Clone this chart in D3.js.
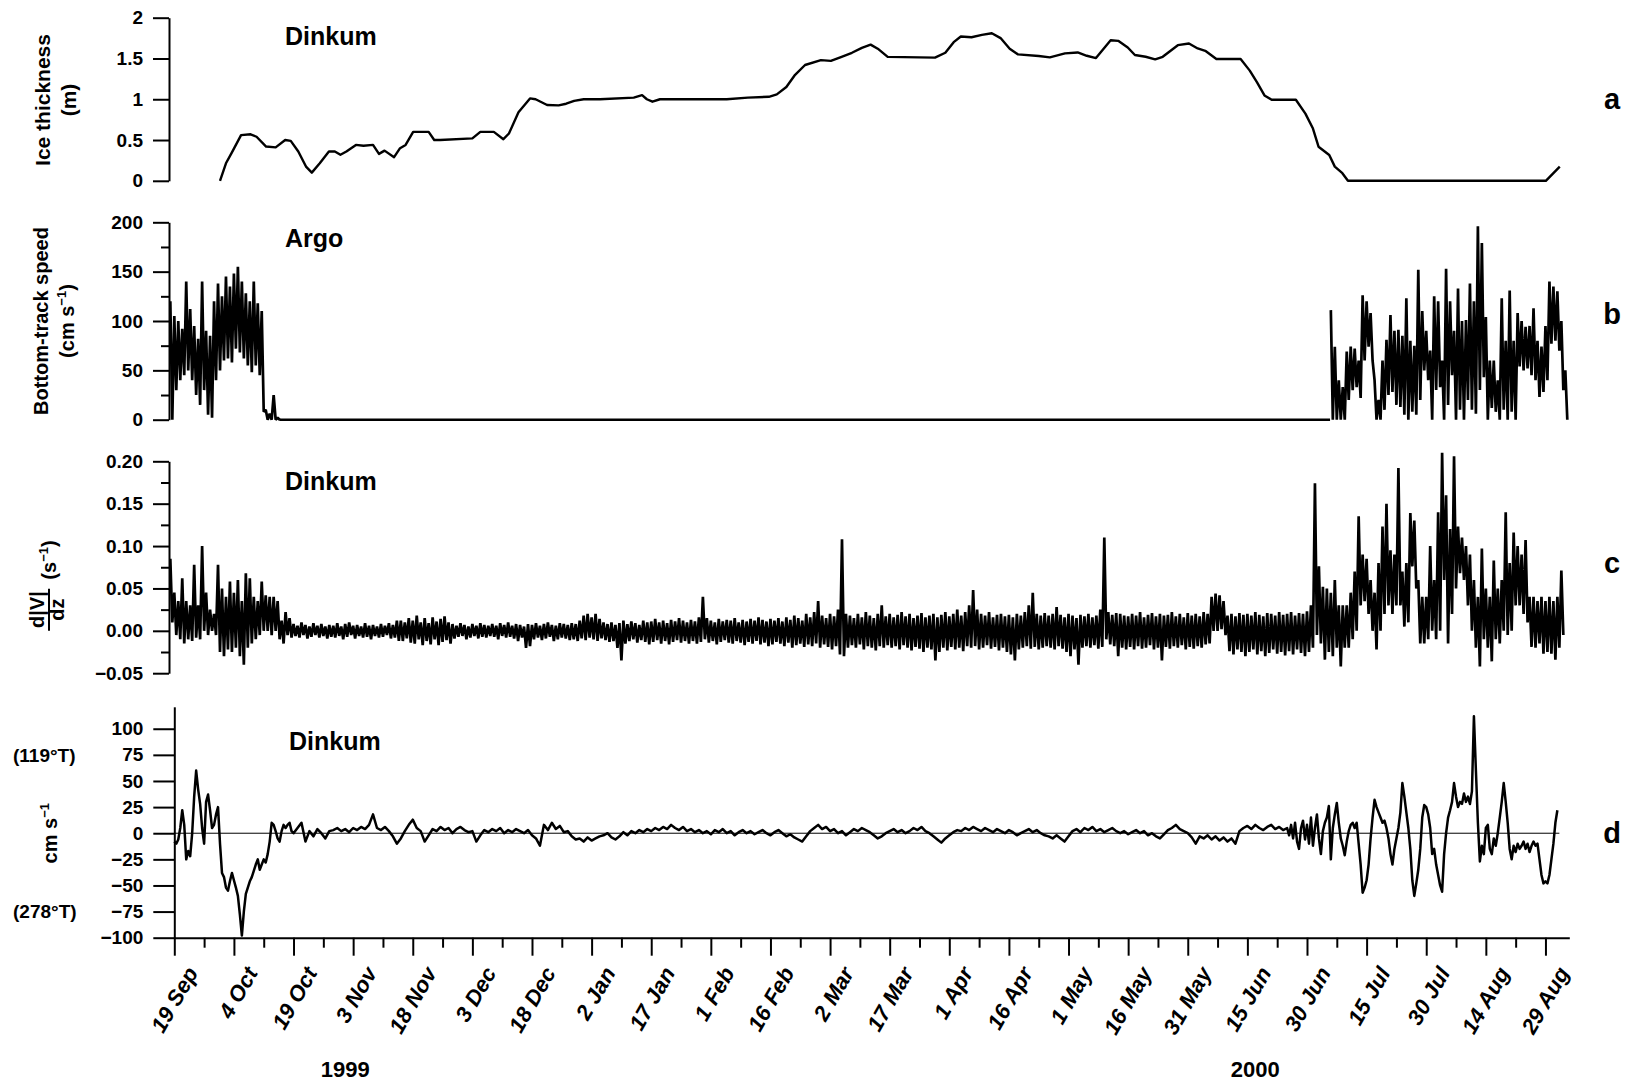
<!DOCTYPE html>
<html>
<head>
<meta charset="utf-8">
<script src="https://cdn.jsdelivr.net/npm/d3@7"></script>
<style>
  body { margin: 0; background: #fff; }
  svg { display: block; }
  text { font-family: "Liberation Sans", Arial, Helvetica, sans-serif; font-weight: bold; fill: #000; }
</style>
</head>
<body>
<div id="container"></div>
<script>
// all series are indexed by days since 19 Sep 1999

// x axis ticks
const tickDates = ["1999-09-19","1999-10-04","1999-10-19","1999-11-03","1999-11-18","1999-12-03",
  "1999-12-18","2000-01-02","2000-01-17","2000-02-01","2000-02-16","2000-03-02","2000-03-17",
  "2000-04-01","2000-04-16","2000-05-01","2000-05-16","2000-05-31","2000-06-15","2000-06-30",
  "2000-07-15","2000-07-30","2000-08-14","2000-08-29"];
const yearLabels = [["1999", "1999-11-01"], ["2000", "2000-06-17"]];
const panelNames = ["Dinkum", "Argo", "Dinkum", "Dinkum"];
const panelLetters = ["a", "b", "c", "d"];

// (a) ice thickness, m
const iceDays = [11.5,13,14.4,16.8,19.2,20.7,23.1,25.5,27.9,29.3,31.2,33.2,34.6,36.6,38.9,40.4,41.8,43.3,
  45.7,47.6,50,51.5,52.9,55.3,56.8,58.2,60.1,64,65.4,66.9,75,77,80.4,82.8,84.2,86.6,89.5,90.9,93.8,
  96.7,98.6,100.6,103,107.1,115.6,117.7,118.9,120.3,122.2,139,144.3,149.6,151.6,154,156.2,158.7,
  162.7,165.2,167.9,170.5,173,175.2,177,179.5,191.4,194,196.1,197.9,200.6,203.2,205.7,207.9,210.2,
  212.3,217.5,220.3,224.1,227.3,229.6,231.9,235.6,237.5,239.9,241.7,244.4,246.8,248.7,252.5,255.3,
  257.5,259.4,262.2,268.3,270.6,272.4,274.3,276.1,282.2,284.6,286.5,287.9,290.6,292,293.9,295.3,
  345.1,348.6];
const iceThick = [0,0.215,0.34,0.56,0.57,0.54,0.42,0.41,0.5,0.49,0.36,0.17,0.1,0.215,0.36,0.36,0.32,0.36,
  0.44,0.43,0.44,0.33,0.37,0.29,0.4,0.44,0.6,0.6,0.5,0.5,0.52,0.6,0.6,0.51,0.58,0.84,1.01,1,0.93,
  0.925,0.945,0.98,1,1,1.02,1.05,1,0.97,1,1,1.02,1.03,1.06,1.15,1.3,1.42,
  1.48,1.47,1.52,1.57,1.63,1.67,1.62,1.52,1.51,1.57,1.7,1.77,1.76,1.79,1.81,1.75,1.62,
  1.55,1.53,1.513,1.562,1.574,1.533,1.505,1.724,1.716,1.635,1.542,1.521,1.489,1.521,1.663,1.684,
  1.623,1.594,1.493,1.493,1.351,1.209,1.047,0.994,0.994,0.824,0.641,0.418,0.316,0.174,0.093,0,
  0,0.174];

// (b) bottom-track speed, cm/s: daily high / low, first burst from day -1, second from day 291
const speedHiA = [120,105,100,92,140,112,95,82,140,90,85,120,138,125,145,135,148,155,140,128,120,140,118,110,10,6,25,2];
const speedLoA = [0,30,40,45,50,40,25,15,30,5,2,40,50,60,62,58,72,68,62,55,48,55,45,8,0,0,0,0];
const speedIdle = [27, 290.8];   // days with zero speed (fast ice)
const speedHiB = [111,74,40,33,69,74,72,60,126,120,108,40,20,60,81,106,90,91,85,123,80,75,152,110,90,70,125,120,60,153,
  120,90,133,100,101,138,120,196,179,104,60,60,40,123,80,131,80,108,100,94,95,113,80,74,95,140,135,130,100,50];
const speedLoB = [0,0,0,0,20,30,33,22,60,74,60,0,0,10,25,28,15,13,5,0,8,5,20,50,40,0,30,33,0,15,
  45,0,10,0,20,10,6,30,43,0,12,8,0,10,0,8,0,54,50,52,45,40,23,28,40,77,80,70,30,0];

// (c) shear d|V|/dz, 1/s: daily high / low from day -1 to day 349
const shearHi = [
  .085,.045,.035,.062,.035,.03,.078,.03,.1,.045,.025,.02,.078,.05,.04,.058,.045,.06,.035,.068,.062,.04,.035,.058,.042,.04,.04,.035,.012,.022,.015,
  .008,.006,.01,.007,.005,.009,.006,.008,.005,.007,
  .006,.009,.005,.008,.01,.006,.007,.005,.009,.006,
  .007,.005,.008,.006,.009,.007,.012,.012,.01,.015,
  .012,.018,.01,.015,.009,.016,.011,.014,.017,.01,
  .008,.006,.009,.007,.005,.008,.006,.009,.007,.006,
  .008,.006,.009,.007,.01,.006,.008,.007,.005,.008,
  .007,.009,.006,.008,.01,.007,.006,.009,.008,.007,
  .009,.008,.012,.018,.02,.016,.02,.014,.01,.008,
  .01,.007,.009,.012,.008,.011,.009,.007,.012,.01,
  .011,.014,.01,.012,.009,.013,.011,.015,.012,.01,
  .013,.011,.016,.04,.015,.012,.01,.014,.011,.013,
  .012,.015,.01,.013,.011,.014,.012,.016,.013,.011,
  .014,.012,.015,.011,.016,.013,.018,.015,.012,.02,
  .016,.022,.035,.018,.015,.02,.017,.025,.108,.02,
  .018,.015,.02,.016,.022,.018,.015,.02,.03,.017,
  .02,.016,.019,.022,.017,.02,.015,.018,.021,.016,
  .018,.02,.016,.019,.022,.017,.02,.025,.018,.022,
  .03,.048,.025,.02,.018,.022,.016,.019,.02,.017,
  .019,.016,.02,.018,.022,.03,.045,.02,.018,.021,
  .018,.02,.028,.019,.016,.02,.018,.015,.019,.017,
  .02,.016,.018,.025,.11,.022,.019,.021,.02,.018,
  .017,.02,.018,.022,.016,.019,.021,.017,.02,.018,
  .019,.022,.017,.02,.016,.021,.018,.02,.017,.022,
  .02,.04,.044,.042,.035,.018,.02,.017,.021,.019,
  .02,.018,.022,.019,.017,.021,.02,.018,.022,.019,
  .02,.022,.018,.021,.02,.023,
  .03,.174,.076,.052,.05,.045,.06,.03,.03,.03,.045,.07,.135,.09,.085,.06,.045,.08,.123,.15,
  .095,.09,.192,.07,.08,.139,.13,.06,.04,.04,.1,.06,.14,.21,.16,.12,.206,.123,.11,.1,
  .09,.06,.04,.097,.05,.04,.083,.05,.06,.14,.08,.116,.1,.09,.107,.04,.04,.035,.04,.035,
  .04,.035,.04,.071];
const shearLo = [
  .01,-.005,-.01,-.015,-.01,-.012,-.008,-.01,0,-.005,0,-.005,-.025,-.03,-.022,-.025,-.02,-.03,-.04,-.02,-.015,-.01,-.005,0,0,-.005,0,-.01,-.015,-.005,-.008,
  -.006,-.008,-.005,-.009,-.007,-.005,-.008,-.006,-.009,-.007,
  -.008,-.006,-.01,-.007,-.005,-.009,-.006,-.008,-.007,-.01,
  -.006,-.008,-.007,-.005,-.009,-.008,-.012,-.012,-.009,-.014,
  -.015,-.01,-.017,-.012,-.016,-.01,-.017,-.013,-.011,-.015,
  -.009,-.007,-.006,-.01,-.008,-.006,-.009,-.007,-.008,-.006,
  -.007,-.01,-.006,-.008,-.007,-.009,-.012,-.008,-.02,-.018,
  -.01,-.008,-.011,-.009,-.007,-.012,-.01,-.008,-.009,-.011,
  -.01,-.012,-.009,-.011,-.008,-.01,-.012,-.009,-.011,-.013,
  -.012,-.02,-.035,-.015,-.012,-.01,-.014,-.011,-.013,-.016,
  -.013,-.011,-.015,-.012,-.016,-.013,-.011,-.014,-.012,-.015,
  -.012,-.015,-.013,-.01,-.014,-.012,-.016,-.013,-.011,-.014,
  -.015,-.012,-.014,-.017,-.013,-.015,-.012,-.016,-.014,-.018,
  -.016,-.013,-.015,-.018,-.014,-.02,-.017,-.015,-.019,-.016,
  -.018,-.015,-.02,-.016,-.019,-.022,-.018,-.028,-.03,-.02,
  -.017,-.02,-.016,-.022,-.018,-.02,-.023,-.018,-.02,-.017,
  -.02,-.018,-.022,-.017,-.02,-.023,-.019,-.021,-.025,-.02,
  -.022,-.035,-.025,-.02,-.023,-.019,-.022,-.02,-.024,-.018,
  -.02,-.018,-.022,-.02,-.017,-.021,-.019,-.023,-.02,-.025,
  -.028,-.035,-.022,-.02,-.018,-.021,-.019,-.022,-.02,-.018,
  -.02,-.022,-.018,-.021,-.025,-.03,-.022,-.04,-.02,-.018,
  -.02,-.017,-.021,-.019,-.01,-.016,-.018,-.03,-.02,-.022,
  -.019,-.022,-.018,-.021,-.02,-.017,-.022,-.02,-.035,-.019,
  -.021,-.018,-.02,-.017,-.022,-.019,-.021,-.018,-.02,-.016,
  -.015,0,0,.002,-.005,-.024,-.028,-.022,-.025,-.03,
  -.025,-.022,-.028,-.024,-.03,-.026,-.022,-.027,-.025,-.029,
  -.024,-.028,-.022,-.026,-.03,-.025,
  -.02,-.005,-.015,-.034,-.025,-.03,-.02,-.042,-.02,-.02,-.01,0,.03,.035,.02,0,-.022,0,.02,.03,
  .02,.03,.03,.005,.01,.076,.05,-.015,-.015,-.01,0,-.01,0,.06,-.015,.02,.05,.068,.06,.03,
  0,-.02,-.042,-.01,-.02,-.036,-.01,-.015,0,-.005,0,.03,.03,.02,.01,-.019,-.02,-.015,-.027,-.025,
  -.027,-.034,-.02,-.005];

// (d) along-channel velocity, cm/s (positive toward 119°T)
const velEarly = [ // day 0 to 29.5, half-day steps
  -8,-10,-6,5,22,8,-25,-17,-22,0,35,60,42,28,5,-10,30,37,22,5,
  8,18,25,-10,-38,-42,-52,-55,-46,-38,-45,-52,-60,-78,-98,-75,-58,-52,-46,-42,
  -36,-30,-25,-35,-30,-25,-28,-20,-8,10,8,2,-5,-8,2,8,5,8,10,2];
const velMid = [ // day 30 to 279, daily
  0,5,10,-8,2,-3,4,0,-5,2, 3,5,2,4,1,5,3,6,4,8, 18,5,3,6,2,-3,-10,-5,2,8,
  13,5,2,-8,-2,4,2,6,3,5, 0,4,6,3,1,2,-8,-2,3,1, 4,2,5,0,3,1,4,2,0,3,
  -2,-5,-12,8,3,10,4,7,1,2, -3,-6,-5,-8,-4,-7,-5,-3,-2,0, -4,-6,-3,1,-2,2,0,3,1,4,
  2,5,3,6,4,8,5,3,6,2, 4,1,3,0,2,-1,3,1,4,0, 2,-2,1,3,0,2,-1,1,3,0,
  -2,1,3,0,-3,-1,-4,-6,-8,-3, 2,5,8,4,6,2,4,0,2,-2, 1,4,2,5,3,1,-2,-5,-3,0,
  2,4,1,3,0,2,5,3,6,2, 0,-3,-6,-9,-5,-2,1,3,2,5, 3,6,4,2,5,3,1,4,2,0,
  3,1,-2,0,2,4,1,3,0,-2, -3,-5,-2,-5,-8,-3,2,4,1,5, 3,6,2,4,1,3,5,2,0,2,
  -1,1,3,0,2,-2,0,-3,-5,-1, 3,5,8,4,2,0,-4,-10,-3,-5, -2,-6,-3,-7,-4,-8,-5,-10,2,5,
  7,4,8,5,3,6,8,4,6,3];
const velLate = [ // day 280 to 348, half-day steps
  5,-2,8,-5,10,-8,-15,5,12,-6, 8,-10,15,-12,5,18,-5,-20,2,10,
  15,26,-25,5,18,29,10,-5,-12,-21, -8,2,8,10,5,10,-10,-30,-57,-52,
  -45,-30,-5,15,32,25,20,15,10,12, 5,-5,-20,-30,-15,-5,5,20,48,35,
  20,5,-15,-45,-60,-48,-35,-15,15,27, 25,18,5,-20,-15,-30,-40,-50,-56,-20,
  0,15,22,30,48,35,25,30,28,38, 30,35,28,40,112,60,10,-27,-12,-20,
  5,8,-15,-20,-5,-12,0,15,30,48, 30,10,-15,-25,-12,-18,-10,-15,-12,-8,
  -15,-10,-18,-12,-8,-12,-10,-25,-40,-48, -46,-48,-40,-25,-10,10,22];
const dirLabels = [["(119°T)", 75], ["(278°T)", -75]];

// ---------------------------------------------------------------
const W = 1629, H = 1082;
const t0 = Date.UTC(1999, 8, 19);
const day = d => new Date(t0 + d * 864e5);
const parse = d3.utcParse("%Y-%m-%d");

const x = d3.scaleUtc().domain([day(0), day(351)]).range([174.3, 1569.3]);
const yA = d3.scaleLinear().domain([0, 2]).range([180.8, 17.7]);
const yB = d3.scaleLinear().domain([0, 200]).range([419.7, 222.3]);
const yC = d3.scaleLinear().domain([-0.05, 0.2]).range([673.2, 461.3]);
const yD = d3.scaleLinear().domain([-100, 121]).range([937.7, 706.8]);

const svg = d3.select("#container").append("svg")
  .attr("width", W).attr("height", H)
  .style("background", "#fff");

// helpers to turn the arrays into [day, value] points
const band = (start, hi, lo) => hi.flatMap((h, i) => [[start + i, h], [start + i + 0.5, lo[i]]]);
const steps = (start, step, vals) => vals.map((v, i) => [start + i * step, v]);

function yAxis(scale, xPos, major, minor, fmt, size) {
  const g = svg.append("g").attr("transform", `translate(${xPos},0)`);
  g.call(d3.axisLeft(scale).tickValues(major).tickSize(size).tickSizeOuter(0).tickPadding(10).tickFormat(fmt));
  if (minor) {
    g.append("g")
      .call(d3.axisLeft(scale).tickValues(minor).tickSize(size / 2).tickFormat(""))
      .select(".domain").remove();
  }
  g.selectAll("path, line").attr("stroke", "#000").attr("stroke-width", 2);
  g.selectAll("text").attr("font-size", 19);
  return g;
}

function plot(points, y, width, join = "round") {
  svg.append("path")
    .datum(points)
    .attr("fill", "none")
    .attr("stroke", "#000")
    .attr("stroke-width", width)
    .attr("stroke-linejoin", join)
    .attr("d", d3.line().x(p => x(day(p[0]))).y(p => y(p[1])));
}

// panel a
yAxis(yA, 169, [0, 0.5, 1, 1.5, 2], null, String, 16);
plot(iceDays.map((d, i) => [d, iceThick[i]]), yA, 2.4);

// panel b
yAxis(yB, 169, [0, 50, 100, 150, 200], [25, 75, 125, 175], d3.format("d"), 16);
plot(band(-1, speedHiA, speedLoA), yB, 2.7, "bevel");
plot([[speedIdle[0] - 0.6, 0], ...speedIdle.map(d => [d, 0])], yB, 2.6);
plot(band(291, speedHiB, speedLoB), yB, 2.7, "bevel");

// panel c
yAxis(yC, 169, [-0.05, 0, 0.05, 0.1, 0.15, 0.2], d3.range(-0.025, 0.2, 0.05), d3.format(".2f"), 16);
plot(band(-1, shearHi, shearLo), yC, 2.7, "bevel");

// panel d
yAxis(yD, x(day(0)), d3.range(-100, 101, 25), null, d3.format("d"), 21);
svg.append("line")
  .attr("x1", x(day(0))).attr("x2", x(day(348.5)))
  .attr("y1", yD(0)).attr("y2", yD(0))
  .attr("stroke", "#000").attr("stroke-width", 1);
plot([...steps(0, 0.5, velEarly), ...steps(30, 1, velMid), ...steps(280, 0.5, velLate)], yD, 2.5);

dirLabels.forEach(([t, v]) => {
  svg.append("text").attr("x", 13).attr("y", yD(v)).attr("dy", "0.36em")
    .attr("font-size", 19).text(t);
});

// x axis (bottom of panel d)
const majors = tickDates.map(parse);
const minors = majors.slice(1).map(d => d3.utcHour.offset(d, -180));
const xg = svg.append("g").attr("transform", `translate(0,${yD(-100)})`);
xg.call(d3.axisBottom(x).tickValues(majors).tickSize(18).tickSizeOuter(0)
  .tickFormat(d3.utcFormat("%-d %b")));
xg.append("g").call(d3.axisBottom(x).tickValues(minors).tickSize(10).tickFormat(""))
  .select(".domain").remove();
xg.selectAll("path, line").attr("stroke", "#000").attr("stroke-width", 2);
xg.selectAll(".tick text")
  .attr("x", 0).attr("y", 0).attr("dy", 0)
  .attr("text-anchor", "end")
  .attr("font-size", 22)
  .attr("font-style", "italic")
  .attr("transform", "translate(24,35) rotate(-60)");

yearLabels.forEach(([t, d]) => {
  svg.append("text").attr("x", x(parse(d))).attr("y", 1077)
    .attr("text-anchor", "middle").attr("font-size", 22).text(t);
});

// panel names and letters
const nameY = [45, 247, 490, 750];
panelNames.forEach((n, i) => {
  svg.append("text").attr("x", i === 3 ? 289 : 285).attr("y", nameY[i])
    .attr("font-size", 25).text(n);
});
const letterY = [yA(1), yB(107), yC(0.08), yD(0)];
panelLetters.forEach((l, i) => {
  svg.append("text").attr("x", 1612).attr("y", letterY[i]).attr("dy", "0.35em")
    .attr("text-anchor", "middle").attr("font-size", 29).text(l);
});

// axis titles
function vtext(xPos, yPos, size) {
  return svg.append("text")
    .attr("transform", `translate(${xPos},${yPos}) rotate(-90)`)
    .attr("text-anchor", "middle").attr("font-size", size);
}
function inverse(sel) {
  sel.append("tspan").text("(cm s");
  sel.append("tspan").attr("dy", -8).attr("font-size", 13).text("−1");
  sel.append("tspan").attr("dy", 8).text(")");
}
vtext(50, 100, 21).text("Ice thickness");
vtext(76, 100, 21).text("(m)");
vtext(48, 321, 20).text("Bottom-track speed");
inverse(vtext(74, 321, 20));

const cg = svg.append("g").attr("transform", `translate(49,${yC(0.025)}) rotate(-90)`);
cg.append("text").attr("x", 0).attr("y", -5).attr("text-anchor", "middle").attr("font-size", 20).text("d|V|");
cg.append("line").attr("x1", -21).attr("x2", 21).attr("stroke", "#000").attr("stroke-width", 2);
cg.append("text").attr("x", 0).attr("y", 15).attr("text-anchor", "middle").attr("font-size", 20).text("dz");
const st = cg.append("text").attr("x", 30).attr("y", 7).attr("font-size", 20);
st.append("tspan").text("(s");
st.append("tspan").attr("dy", -8).attr("font-size", 13).text("−1");
st.append("tspan").attr("dy", 8).text(")");

const dt = vtext(57, yD(0), 20);
dt.append("tspan").text("cm s");
dt.append("tspan").attr("dy", -8).attr("font-size", 13).text("−1");
</script>
</body>
</html>
